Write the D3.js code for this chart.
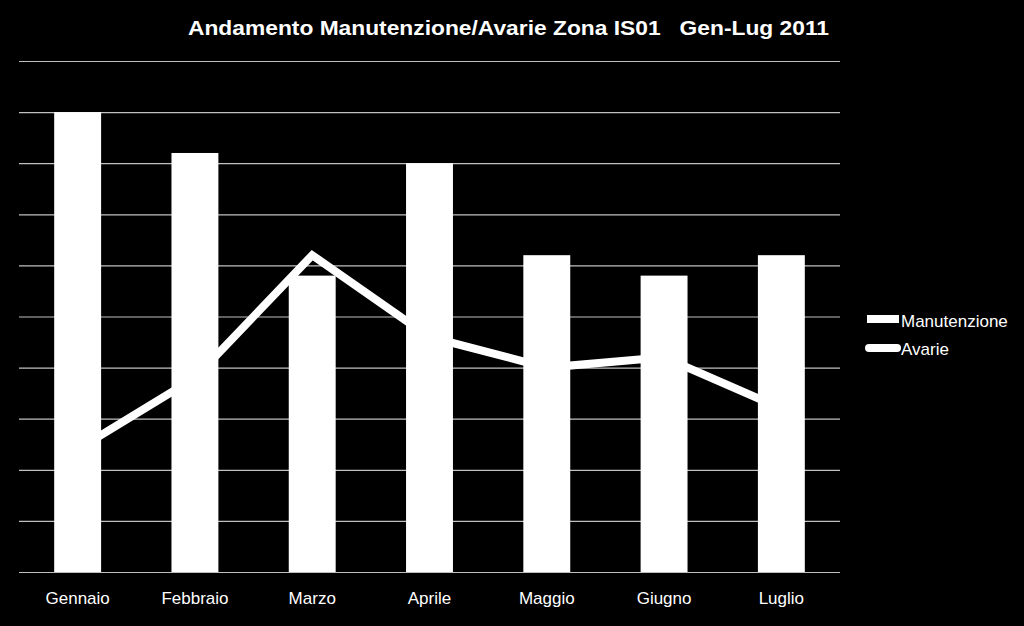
<!DOCTYPE html>
<html>
<head>
<meta charset="utf-8">
<script src="https://cdn.jsdelivr.net/npm/d3@7"></script>
<style>
  html, body { margin: 0; padding: 0; background: #000; }
  svg { display: block; }
  text { font-family: "Liberation Sans", Arial, sans-serif; fill: #fff; }
</style>
</head>
<body>
<svg id="chart" width="1024" height="626"></svg>
<script>
const months = ["Gennaio", "Febbraio", "Marzo", "Aprile", "Maggio", "Giugno", "Luglio"];
const manutenzione = [9.0, 8.2, 5.8, 8.0, 6.2, 5.8, 6.2];
const avarie = [2.4, 3.8, 6.2, 4.6, 4.0, 4.2, 3.2];
const yTicks = [0, 1, 2, 3, 4, 5, 6, 7, 8, 9, 10];
const seriesNames = ["Manutenzione", "Avarie"];
const chartTitle = "Andamento Manutenzione/Avarie Zona IS01   Gen-Lug 2011";

(function () {
const svg = d3.select("#chart");
const W = 1024, H = 626;
svg.append("rect").attr("width", W).attr("height", H).attr("fill", "#000");

const pLeft = 19, pRight = 840, pTop = 61, pBottom = 572;

const x = d3.scaleBand().domain(months).range([pLeft, pRight]).paddingInner(0.6).paddingOuter(0.3);
const y = d3.scaleLinear().domain([0, 10]).range([pBottom, pTop]);

// gridlines
const grid = svg.append("g").attr("transform", `translate(${pLeft},0)`)
  .call(d3.axisLeft(y).tickValues(yTicks).tickSize(-(pRight - pLeft)).tickFormat(""));
grid.select(".domain").remove();
grid.selectAll(".tick line").attr("stroke", "#c0c0c0").attr("stroke-width", 1.2);

// bars
svg.append("g").selectAll("rect").data(months).join("rect")
  .attr("x", d => x(d))
  .attr("y", (d, i) => y(manutenzione[i]))
  .attr("width", x.bandwidth())
  .attr("height", (d, i) => y(0) - y(manutenzione[i]))
  .attr("fill", "#fff");

// line
const line = d3.line()
  .x((d, i) => x(months[i]) + x.bandwidth() / 2)
  .y(d => y(d));
svg.append("path").datum(avarie)
  .attr("d", line)
  .attr("fill", "none")
  .attr("stroke", "#fff")
  .attr("stroke-width", 8)
  .attr("stroke-linejoin", "miter");

// x labels
const xa = svg.append("g").attr("transform", `translate(0,${pBottom})`)
  .call(d3.axisBottom(x).tickSize(0).tickPadding(0));
xa.select(".domain").remove();
xa.selectAll(".tick text").attr("y", 32).attr("dy", 0)
  .style("font-family", '"Liberation Sans", Arial, sans-serif')
  .style("font-size", "17px").attr("fill", "#fff");

// title
svg.append("text").attr("x", 188).attr("y", 34.5)
  .attr("font-size", "21px").attr("font-weight", "bold")
  .attr("textLength", 641).attr("lengthAdjust", "spacingAndGlyphs")
  .style("white-space", "pre")
  .text(chartTitle);

// legend
const lg = svg.append("g");
lg.append("rect").attr("x", 867).attr("y", 315).attr("width", 32).attr("height", 8).attr("fill", "#fff");
lg.append("text").attr("x", 901).attr("y", 327).attr("font-size", "17px").text(seriesNames[0]);
lg.append("line").attr("x1", 869).attr("x2", 897).attr("y1", 348).attr("y2", 348)
  .attr("stroke", "#fff").attr("stroke-width", 8).attr("stroke-linecap", "round");
lg.append("text").attr("x", 901).attr("y", 354.5).attr("font-size", "17px").text(seriesNames[1]);
})();
</script>
</body>
</html>
